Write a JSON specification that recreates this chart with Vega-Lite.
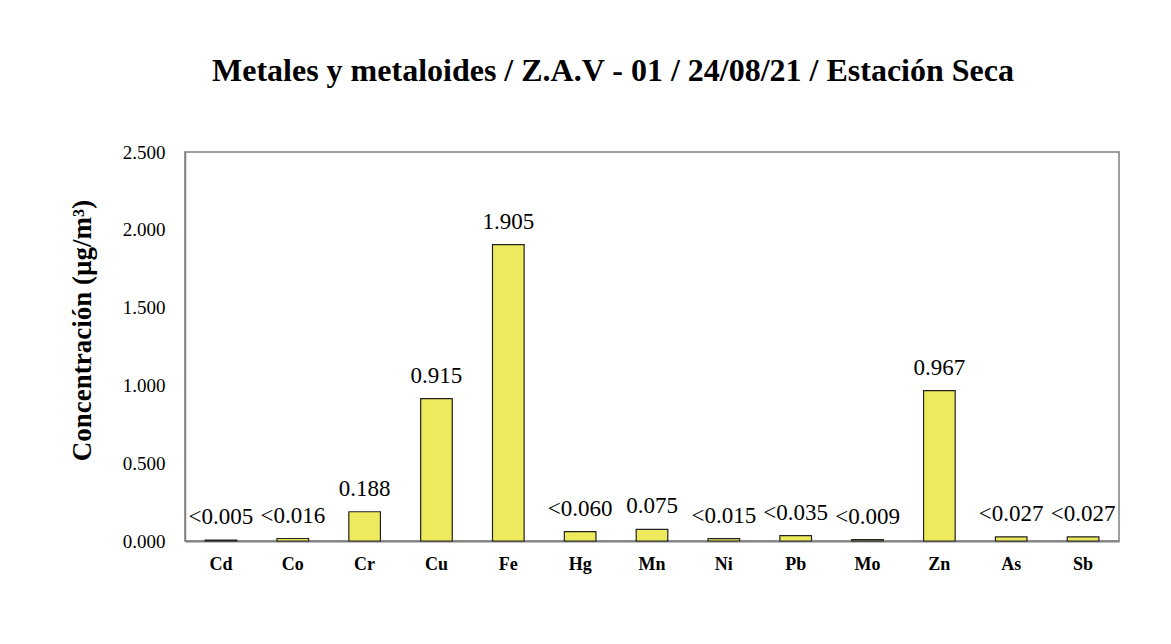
{
  "$schema": "https://vega.github.io/schema/vega-lite/v6.json",
  "autosize": "none",
  "width": 934,
  "height": 389,
  "padding": {"left": 185, "top": 152, "right": 52, "bottom": 103},
  "background": "white",
  "title": {
    "text": "Metales y metaloides / Z.A.V  - 01 / 24/08/21 / Estación Seca",
    "font": "Liberation Serif",
    "fontSize": 32,
    "fontWeight": "bold",
    "color": "black",
    "anchor": "middle",
    "frame": "group",
    "baseline": "alphabetic",
    "offset": 30,
    "dx": -39
  },
  "data": {
    "values": [
      {"metal": "Cd", "valor": 0.005, "etiqueta": "<0.005"},
      {"metal": "Co", "valor": 0.016, "etiqueta": "<0.016"},
      {"metal": "Cr", "valor": 0.188, "etiqueta": "0.188"},
      {"metal": "Cu", "valor": 0.915, "etiqueta": "0.915"},
      {"metal": "Fe", "valor": 1.905, "etiqueta": "1.905"},
      {"metal": "Hg", "valor": 0.060, "etiqueta": "<0.060"},
      {"metal": "Mn", "valor": 0.075, "etiqueta": "0.075"},
      {"metal": "Ni", "valor": 0.015, "etiqueta": "<0.015"},
      {"metal": "Pb", "valor": 0.035, "etiqueta": "<0.035"},
      {"metal": "Mo", "valor": 0.009, "etiqueta": "<0.009"},
      {"metal": "Zn", "valor": 0.967, "etiqueta": "0.967"},
      {"metal": "As", "valor": 0.027, "etiqueta": "<0.027"},
      {"metal": "Sb", "valor": 0.027, "etiqueta": "<0.027"}
    ]
  },
  "encoding": {
    "x": {
      "field": "metal",
      "type": "nominal",
      "sort": null,
      "scale": {"paddingInner": 0.56, "paddingOuter": 0.28},
      "axis": {
        "title": null,
        "labelAngle": 0,
        "labelFont": "Liberation Serif",
        "labelFontSize": 18,
        "labelFontWeight": "bold",
        "labelColor": "black",
        "labelPadding": 14,
        "ticks": false,
        "domainColor": "#808080",
        "domainWidth": 2
      }
    },
    "y": {
      "field": "valor",
      "type": "quantitative",
      "scale": {"domain": [0, 2.5], "nice": false},
      "axis": {
        "title": "Concentración (µg/m³)",
        "titleFont": "Liberation Serif",
        "titleFontSize": 27,
        "titleFontWeight": "bold",
        "titleColor": "black",
        "titlePadding": 26,
        "titleY": 178,
        "values": [0, 0.5, 1, 1.5, 2, 2.5],
        "format": ".3f",
        "labelFont": "Liberation Serif",
        "labelFontSize": 19,
        "labelColor": "black",
        "labelPadding": 20,
        "ticks": false,
        "grid": false,
        "domainColor": "#808080",
        "domainWidth": 1.5
      }
    }
  },
  "layer": [
    {
      "mark": {"type": "bar", "color": "#EEEA5E", "stroke": "#222222", "strokeWidth": 1.2}
    },
    {
      "mark": {
        "type": "text",
        "font": "Liberation Serif",
        "fontSize": 23,
        "color": "black",
        "baseline": "alphabetic",
        "dy": -16
      },
      "encoding": {"text": {"field": "etiqueta"}}
    }
  ],
  "config": {
    "view": {"stroke": "#808080", "strokeWidth": 1.5}
  }
}
